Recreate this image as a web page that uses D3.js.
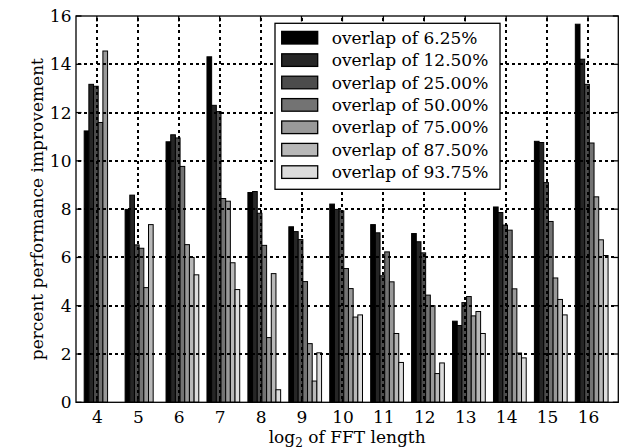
<!DOCTYPE html>
<html>
<head>
<meta charset="utf-8">
<script src="https://cdn.jsdelivr.net/npm/d3@7"></script>
<style>
  body { margin: 0; background: #fff; }
  text { font-family: "DejaVu Serif", serif; }
</style>
</head>
<body>
<svg id="chart" width="625" height="448"></svg>
<script>
// log2 of FFT length
const fftSizes = [4, 5, 6, 7, 8, 9, 10, 11, 12, 13, 14, 15, 16]

// percent performance improvement, one array per overlap
const overlap625  = [11.24, 7.99, 10.79, 14.31, 8.69, 7.27, 8.21, 7.36, 6.99, 3.36, 8.09, 10.81, 15.66]
const overlap1250 = [13.17, 8.58, 11.08, 12.30, 8.73, 7.07, 7.99, 7.02, 6.65, 3.18, 7.86, 10.76, 14.21]
const overlap2500 = [13.09, 6.52, 10.95, 12.04, 7.83, 6.74, 7.93, 5.24, 6.19, 4.13, 7.34, 9.10, 13.17]
const overlap5000 = [11.59, 6.38, 9.77, 8.44, 6.50, 5.00, 5.54, 6.23, 4.44, 4.38, 7.13, 7.49, 10.74]
const overlap7500 = [14.55, 4.75, 6.53, 8.33, 2.68, 2.43, 4.71, 4.99, 4.00, 3.58, 4.70, 5.15, 8.51]
const overlap8750 = [null, 7.36, 6.00, 5.78, 5.33, 0.88, 3.53, 2.85, 1.19, 3.76, 2.04, 4.26, 6.73]
const overlap9375 = [null, null, 5.28, 4.67, 0.52, 2.05, 3.62, 1.65, 1.63, 2.85, 1.84, 3.62, 6.08]

const seriesLabels = ["overlap of 6.25%", "overlap of 12.50%", "overlap of 25.00%", "overlap of 50.00%",
                      "overlap of 75.00%", "overlap of 87.50%", "overlap of 93.75%"]
const seriesValues = [overlap625, overlap1250, overlap2500, overlap5000, overlap7500, overlap8750, overlap9375]
const seriesColors = ["#000000", "#262626", "#4c4c4c", "#737373", "#999999", "#b8b8b8", "#dcdcdc"]

const yTicks = [0, 2, 4, 6, 8, 10, 12, 14, 16]

const margin = {left: 76, top: 16, right: 6.7, bottom: 45.7}
const width = 625 - margin.left - margin.right
const height = 448 - margin.top - margin.bottom

const barW = 0.8 / seriesValues.length
const tickOffset = 0.31

const xscale = d3.scaleLinear().domain([-0.2, 13.05]).range([0, width])
const yscale = d3.scaleLinear().domain([0, 16]).range([height, 0])
// same x scale, expressed in FFT-size units for the ticks
const xTickScale = d3.scaleLinear().domain([fftSizes[0] - tickOffset - 0.2, fftSizes[0] - tickOffset + 13.05]).range([0, width])

const svg = d3.select("#chart")
const g = svg.append("g").attr("transform", `translate(${margin.left},${margin.top})`)

// bars
seriesValues.forEach((vals, k) => {
  g.append("g").selectAll("rect")
    .data(vals.map((v, i) => ({i, v})).filter(d => d.v != null))
    .join("rect")
    .attr("x", d => xscale(d.i + k * barW))
    .attr("width", xscale(barW) - xscale(0))
    .attr("y", d => yscale(d.v))
    .attr("height", d => yscale(0) - yscale(d.v))
    .attr("fill", seriesColors[k])
    .attr("stroke", "#000")
    .attr("stroke-width", 1)
})

// dotted grid over the bars, built from small dots
const dotStep = 6.2, dotLen = 3, dotW = 2
const gridDots = []
fftSizes.forEach(s => {
  const x = Math.round(xTickScale(s) - dotW / 2)
  d3.range(2, height - 3, dotStep).forEach(y => gridDots.push({x, y: Math.round(y), w: dotW, h: dotLen}))
})
yTicks.slice(1, -1).forEach(t => {
  const y = Math.round(yscale(t) - dotW / 2)
  d3.range(2, width - 3, dotStep).forEach(x => gridDots.push({x: Math.round(x), y, w: dotLen, h: dotW}))
})
g.append("g").attr("shape-rendering", "crispEdges")
  .selectAll("rect").data(gridDots).join("rect")
  .attr("x", d => d.x).attr("y", d => d.y).attr("width", d => d.w).attr("height", d => d.h)
  .attr("fill", "#000")

// legend
const leg = g.append("g").attr("transform", "translate(199,7.3)")
leg.append("rect").attr("width", 225).attr("height", 166)
  .attr("fill", "#fff").attr("stroke", "#000").attr("stroke-width", 1.3)
seriesLabels.forEach((lab, k) => {
  const row = leg.append("g").attr("transform", `translate(0,${14.4 + k * 22.4})`)
  row.append("rect").attr("x", 6.7).attr("y", -6.3).attr("width", 36).attr("height", 12.6)
    .attr("fill", seriesColors[k]).attr("stroke", "#000").attr("stroke-width", 1.3)
  row.append("text").attr("x", 56.7).attr("y", 6).attr("font-size", 17).text(lab)
})

// inward tick marks on all four sides
const tickLen = 5.5
const tickMarks = []
fftSizes.forEach(s => {
  const x = xTickScale(s) - 0.65
  tickMarks.push({x, y: height - tickLen, w: 1.3, h: tickLen}, {x, y: 0, w: 1.3, h: tickLen})
})
yTicks.forEach(t => {
  const y = yscale(t) - 0.65
  tickMarks.push({x: 0, y, w: tickLen, h: 1.3}, {x: width - tickLen, y, w: tickLen, h: 1.3})
})
g.append("g").selectAll("rect").data(tickMarks).join("rect")
  .attr("x", d => d.x).attr("y", d => d.y).attr("width", d => d.w).attr("height", d => d.h)
  .attr("fill", "#000")

// frame
g.append("rect").attr("width", width).attr("height", height)
  .attr("fill", "none").attr("stroke", "#000").attr("stroke-width", 1.3)

// tick labels
const styleAxis = sel => {
  sel.select(".domain").remove()
  sel.selectAll(".tick line").remove()
  sel.selectAll(".tick text").attr("font-family", "DejaVu Serif").attr("font-size", 17).attr("fill", "#000")
}
g.append("g").attr("transform", `translate(0,${height})`)
  .call(d3.axisBottom(xTickScale).tickValues(fftSizes).tickFormat(d3.format("d")).tickSize(0).tickPadding(9))
  .call(styleAxis)
g.append("g")
  .call(d3.axisLeft(yscale).tickValues(yTicks).tickFormat(d3.format("d")).tickSize(0).tickPadding(4.5))
  .call(styleAxis)

// axis labels
const xl = svg.append("text")
  .attr("x", margin.left + width / 2).attr("y", 442.5)
  .attr("text-anchor", "middle").attr("font-size", 17)
xl.append("tspan").text("log")
xl.append("tspan").attr("font-size", 12).attr("dy", 4).text("2")
xl.append("tspan").attr("dy", -4).text(" of FFT length")

svg.append("text")
  .attr("transform", `translate(43,${margin.top + height / 2}) rotate(-90)`)
  .attr("text-anchor", "middle").attr("font-size", 17)
  .text("percent performance improvement")
</script>
</body>
</html>
